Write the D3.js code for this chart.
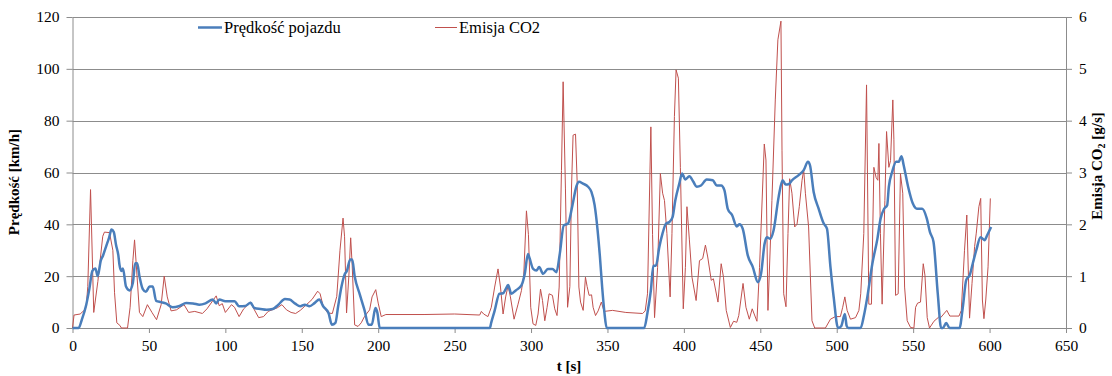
<!DOCTYPE html>
<html><head><meta charset="utf-8">
<script src="https://cdn.jsdelivr.net/npm/d3@7"></script>
<style>
html,body{margin:0;padding:0;background:#fff;}
svg text{font-family:"Liberation Serif","Times New Roman",Times,"DejaVu Serif",serif !important;}
</style></head>
<body>
<svg id="chart" width="1112" height="376"></svg>
<script>
// ---------- data ----------
const xTicks = [0,50,100,150,200,250,300,350,400,450,500,550,600,650];
const speedTicks = [0,20,40,60,80,100,120];
const co2Ticks = [0,1,2,3,4,5,6];

const speedT = [0,4,6,9,11,13,15,16.5,18.5,20,22,24,25.5,27,28.5,30,30.7,32,33,35,37.3,39.5,41,42.3,43.8,46,48,50.5,52.5,54.7,58,61,65.5,70,74.4,78.8,83,87,91.8,94,96,100,103,106,109,113,116.5,119,123,127,131,134.7,139,142,145.7,149,152,155,158.5,161.4,164,167.5,169.7,172,173.8,176,178,179.5,181.7,183,184.6,188,191,193.6,195.8,198.2,199.5,201,273,274,276.2,279.3,281.7,283.4,285,287.1,290,293.7,295.9,298,299,301.4,303.5,305.3,307.9,311,314,316.6,318.8,321.4,324.2,327.1,329.7,331.4,334,337.3,339.5,341.6,343.5,345,346.5,348,349.5,374,376.2,378.4,380,381.7,383.9,386,388.3,390.5,392.6,394.4,397,398.8,401,403.6,406.2,408.4,411.2,414.9,418.9,421.5,424.4,426.5,428.7,431.6,434.6,436.4,438.5,441.8,445.1,448.4,450.5,452.8,454.3,456.5,458.7,462,464.6,466.5,468.5,470.7,475.1,478.4,481.2,482.5,484.9,488.2,491.5,493.6,495.9,498,500.9,503,505.3,506.5,507.5,515.6,517.8,520,523.3,526.6,528.7,531,533,534.1,536.3,538.9,540.5,542.4,543.8,546.7,549.8,552.5,555.9,558.9,561,563.3,566.1,568.3,569.5,571.6,573.8,580.3,582.5,584.7,587,589,591.3,594.1,596.7,598.5,601];
const speedV = [0,0,3,9,15,22,23,20,26,28,31.5,35,38,37,32,28,24.5,22,23,16,14.5,17.5,25,25,20,15,14,16,16,10.5,10,9.5,8,8.5,9.6,9.5,9,9.5,11,9.5,11,10.3,10.3,10.3,8.4,8.5,9.7,7.7,7.3,7,7.3,9,11.2,11,9.4,8.4,9,8.4,9.7,11,8.4,5.8,1.3,2,8.4,16,20.6,22,26.4,26.4,20,12.9,7,1.3,1.3,7.7,5.8,0,0,2.2,6.7,13.2,13.4,15,16.6,13.2,14.5,16.4,20.9,28.6,27,22.8,22.2,23.5,20.9,22.8,22.8,21.5,28.6,39.6,40.3,47.4,54.7,56.4,55.7,54.5,52.5,47.4,38,28,16,6,0,0,6,14.5,24,24,31.2,36.4,40.3,40.9,42.8,49.3,55.7,59.6,57.3,58.6,56.4,54.5,55,57.3,57,55,55,53.2,46,43.5,39.2,40,38.3,28,23.5,17.7,21,32.5,35,34.4,37.7,50.6,57,55.4,55.5,57,59,60.9,64.1,62.8,52.5,46,40.3,38.3,23.5,11.9,0,0.8,5.4,0.8,0,0,4.8,11.9,24.8,34.4,42.2,46,47.4,54.5,60.3,64.1,64.1,66.3,62.8,54.5,48,46,46,42.3,37,33.3,13.3,0,0,1.9,0,0,8.1,18.5,20.4,24.9,30,35,33.9,35.9,39];

const co2T = [0,1,5,8,9,10,11.8,13.9,16.6,19.8,20.9,24.2,26.4,27.5,29,31,32,36,37.7,39.5,40.6,42,43.8,46,49,52,55,58,60,62,64.5,68,73,76,80,85,88,94,96,98,100,104,106,109,112,116.5,119,121.8,125,128,134,137,140,143,146,149,152,156.7,160.4,162,164,167,170,172.9,175,177,178,179.3,180.8,182,183,184.6,186.8,188.9,191,194.4,196,198.4,200,202,205,230,250,266.4,267.5,269,271.8,274,276.2,278.4,280,281.7,283.4,285,286.5,288.9,291.5,293.7,295.2,297,298.3,299.8,301.3,303.1,304.6,306.2,307.5,309,310.5,311.8,314,315.5,317,318.4,319.9,321,322.5,323.9,325.4,326.5,327.5,329.1,330.2,331.3,332.4,334.1,335.6,336.7,338,339.6,340.6,342.2,343.9,346,347.8,353.3,362,373,374.7,376.2,378.4,379.5,380.8,382.8,384.6,386.1,387.3,388.9,391,392.2,393.8,394.9,396.4,397.7,399.6,401,402,403.6,405.3,408,410.2,412.3,414.1,415.6,417.9,419.3,422.3,424.4,425.9,427.7,430.4,432.5,434.6,435.9,438.7,440.6,442.8,444.7,447.8,449.5,452.6,453.7,455,457.6,459.8,461.5,463.5,464.2,465.3,466.8,468.1,469.2,470.7,472.5,474,475.5,477.3,478.4,479.5,481.6,483.8,485.6,492.6,495.9,499.1,502.4,503.9,505.3,506.8,509,512.3,514.5,515.7,517.7,519.5,521,522.7,524.3,525.8,526.9,527.6,528.6,529.7,531.5,532.6,534.1,535.2,536.7,537.4,538.5,540.2,541.7,543.2,544.4,546.1,548.3,550.5,551.6,552.9,554.8,556.6,557.7,559.2,560.7,563.6,566.7,568,572,574,580,581.5,583.6,585.1,586.9,588.5,590.2,591.3,593,594.2,595.3,596.3,597.5,599,600.5];
const co2V = [0,0.25,0.27,0.35,0.42,0.8,2.67,0.3,0.9,1.77,1.85,1.84,1.5,0.68,0.1,0.05,0,0,0.4,1.3,1.7,1.1,0.3,0.22,0.45,0.3,0.16,0.45,1.0,0.6,0.33,0.35,0.45,0.3,0.32,0.28,0.37,0.62,0.43,0.47,0.3,0.45,0.4,0.22,0.37,0.5,0.35,0.2,0.22,0.32,0.39,0.45,0.35,0.3,0.28,0.34,0.42,0.55,0.71,0.66,0.42,0.29,0.28,0.61,1.5,2.12,1.76,0.29,1.0,1.74,1.2,0.06,0.03,0.1,0.22,0.35,0.6,0.74,0.48,0.22,0.26,0.26,0.27,0.25,0.32,0.27,0.22,0.4,0.79,1.14,0.79,0.27,0.6,0.82,0.6,0.17,0.46,0.72,1.0,2.26,1.8,0.4,0.08,0.05,0.27,0.75,0.53,0.14,0.4,0.66,0.63,0.37,0.24,0.79,3.04,4.75,2.7,0.4,0.8,2.72,3.72,3.74,2.8,0.79,0.5,0.34,0.98,0.8,0.63,0.64,0.4,0.24,0.33,0.5,0.32,0.34,0.3,0.28,0.33,0.66,3.88,1.8,0.2,1.17,2.98,2.6,2.46,1.82,0.6,1.82,4.08,4.98,4.82,3.1,0.37,1.17,2.34,1.7,0.98,0.53,1.3,1.34,1.6,1.37,0.92,0.95,0.5,1.24,0.98,0.34,0.01,0.13,0.11,0.24,0.86,0.4,0.17,0.37,0.13,1.17,3.55,3.24,0.34,2.46,4.4,5.56,5.92,3.43,0.66,0.41,1.82,2.88,2.6,1.95,2.0,2.34,2.85,3.05,2.6,1.95,0.14,0,0,0.17,0.22,0.22,0.4,0.6,0.34,0.17,0.2,0.34,0.66,1.82,4.69,0.46,0.46,3.1,2.9,2.85,3.56,1.82,0.46,2.46,3.79,3.1,3.23,4.4,3.63,0.63,0.66,2.98,2.6,0.79,0.14,0.01,0,0.4,0.48,0.5,1.24,1.02,0.2,0,0.13,0.21,0.2,0.34,0.23,0.23,0.34,1.5,2.18,0.19,0.86,1.57,1.83,2.34,2.5,0.54,0.18,0.54,1.18,2.5];

const speedName = "Prędkość pojazdu";
const co2Name = "Emisja CO2";

// ---------- chart ----------
const FONT = "'Liberation Serif','Times New Roman',Times,'DejaVu Serif',serif";
const svg = d3.select("#chart");
const L = 72.5, R = 1066, T = 17, B = 328;
const x = d3.scaleLinear().domain([0,650]).range([L,R]);
const yL = d3.scaleLinear().domain([0,120]).range([B,T]);
const yR = d3.scaleLinear().domain([0,6]).range([B,T]);
const gridCol = "#8c8c8c";
const fs = 15.5;

// gridlines
svg.append("g").selectAll("line").data(speedTicks.slice(1)).join("line")
  .attr("x1",L).attr("x2",R).attr("y1",d=>Math.round(yL(d))+0.5).attr("y2",d=>Math.round(yL(d))+0.5)
  .attr("stroke",gridCol).attr("stroke-width",1);

function styleAxis(g){
  g.attr("font-family",FONT).attr("font-size",fs);
  g.select(".domain").attr("stroke",gridCol);
  g.selectAll(".tick line").attr("stroke",gridCol);
  g.selectAll(".tick text").attr("fill","#000");
}
svg.append("g").attr("transform",`translate(${L},0)`)
  .call(d3.axisLeft(yL).tickValues(speedTicks).tickFormat(d3.format("d")).tickSize(6).tickPadding(7).tickSizeOuter(0))
  .call(styleAxis);
svg.append("g").attr("transform",`translate(${R},0)`)
  .call(d3.axisRight(yR).tickValues(co2Ticks).tickFormat(d3.format("d")).tickSize(6).tickPadding(7).tickSizeOuter(0))
  .call(styleAxis);
svg.append("g").attr("transform",`translate(0,${B})`)
  .call(d3.axisBottom(x).tickValues(xTicks).tickFormat(d3.format("d")).tickSize(5).tickPadding(7).tickSizeOuter(0))
  .call(styleAxis);

// series
const speedData = speedT.map((t,i)=>[t,speedV[i]]);
const co2Data = co2T.map((t,i)=>[t,co2V[i]]);
svg.append("path").datum(co2Data)
  .attr("fill","none").attr("stroke","#c0504d").attr("stroke-width",1).attr("stroke-linejoin","round")
  .attr("d",d3.line().x(d=>x(d[0])).y(d=>yR(d[1])));
svg.append("path").datum(speedData)
  .attr("fill","none").attr("stroke","#4a7ebb").attr("stroke-width",2.5).attr("stroke-linejoin","round")
  .attr("d",d3.line().curve(d3.curveMonotoneX).x(d=>x(d[0])).y(d=>yL(d[1])));

// legend
const leg = [{name:speedName,col:"#4a7ebb",w:2.5,x1:198,x2:222},{name:co2Name,col:"#c0504d",w:1,x1:435,x2:457}];
leg.forEach(l=>{
  svg.append("line").attr("x1",l.x1).attr("x2",l.x2).attr("y1",27.5).attr("y2",27.5)
    .attr("stroke",l.col).attr("stroke-width",l.w);
  svg.append("text").attr("x",l.x2+2).attr("y",27.5).attr("dy","0.35em")
    .attr("font-family",FONT).attr("font-size",16.5).text(l.name);
});

// axis titles
svg.append("text").attr("transform","translate(14,182) rotate(-90)")
  .attr("text-anchor","middle").attr("dy","0.35em").attr("font-family",FONT).attr("font-size",15).attr("font-weight","bold")
  .text("Prędkość [km/h]");
const rt = svg.append("text").attr("transform","translate(1097,166) rotate(-90)")
  .attr("text-anchor","middle").attr("dy","0.35em").attr("font-family",FONT).attr("font-size",15).attr("font-weight","bold");
rt.append("tspan").text("Emisja CO");
rt.append("tspan").attr("dy","3").attr("font-size",10).text("2");
rt.append("tspan").attr("dy","-3").text(" [g/s]");
svg.append("text").attr("x",569).attr("y",371).attr("text-anchor","middle")
  .attr("font-family",FONT).attr("font-size",15).attr("font-weight","bold").text("t [s]");
</script>
</body></html>
